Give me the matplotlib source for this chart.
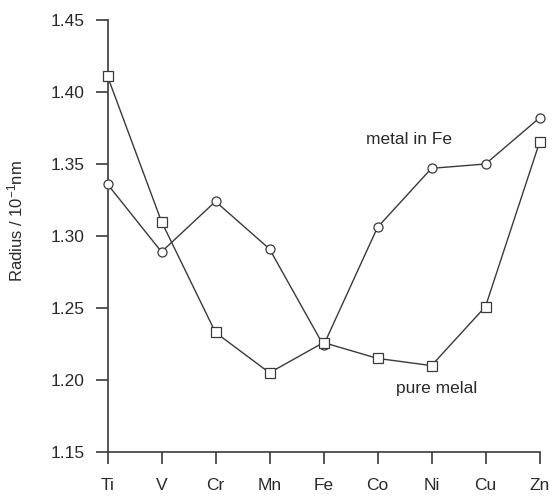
import matplotlib
matplotlib.use("Agg")
import matplotlib.pyplot as plt

elements = ["Ti", "V", "Cr", "Mn", "Fe", "Co", "Ni", "Cu", "Zn"]
metal_in_fe = [1.336, 1.289, 1.324, 1.291, 1.224, 1.306, 1.347, 1.350, 1.382]
pure_metal = [1.411, 1.310, 1.233, 1.205, 1.226, 1.215, 1.210, 1.251, 1.365]
yticks = [1.15, 1.20, 1.25, 1.30, 1.35, 1.40, 1.45]

plt.rcParams['font.family'] = ['Liberation Sans', 'DejaVu Sans']
plt.rcParams['mathtext.default'] = 'regular'

fig = plt.figure(figsize=(5.53, 4.96), dpi=100)
ax = fig.add_axes([107.5/553, 44/496, 432/553, 432/496])
x = list(range(len(elements)))
col = "#3a3a3a"
tcol = "#2a2a2a"
ax.plot(x, metal_in_fe, color=col, lw=1.0, marker="o", markersize=6.5,
        markerfacecolor="white", markeredgecolor=col, markeredgewidth=0.9, clip_on=False, zorder=3)
ax.plot(x, pure_metal, color=col, lw=1.0, marker="s", markersize=6.5,
        markerfacecolor="white", markeredgecolor=col, markeredgewidth=0.9, clip_on=False, zorder=3)

ax.set_xlim(0, 8)
ax.set_ylim(1.15, 1.45)
ax.set_xticks(x)
ax.set_xticklabels(elements)
ax.set_yticks(yticks)
ax.set_yticklabels([f"{v:.2f}" for v in yticks])
for s in ["top", "right"]:
    ax.spines[s].set_visible(False)
for s in ["left", "bottom"]:
    ax.spines[s].set_color(col)
    ax.spines[s].set_linewidth(1.2)
ax.tick_params(axis="y", length=8.6, width=1.2, color=col, labelsize=12.5, labelcolor=tcol, pad=8)
ax.tick_params(axis="x", length=8.6, width=1.2, color=col, labelsize=12.5, labelcolor=tcol, pad=10)
ax.set_ylabel("Radius / 10$^{-1}$nm", fontsize=12, color=tcol)
ax.yaxis.set_label_coords(-0.191, 0.535)

ax.text(5.58, 1.367, "metal in Fe", fontsize=12.5, color=tcol, ha="center", va="center")
ax.text(6.09, 1.1944, "pure melal", fontsize=12.5, color=tcol, ha="center", va="center")

fig.savefig("out.png", dpi=100)
